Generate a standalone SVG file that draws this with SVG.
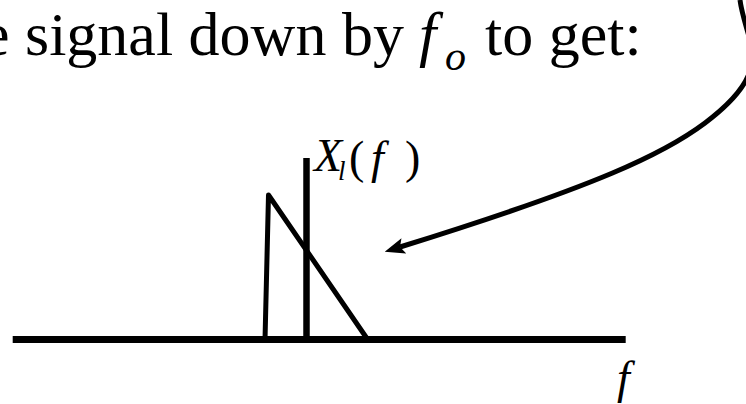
<svg xmlns="http://www.w3.org/2000/svg" width="746" height="404" viewBox="0 0 746 404">
<style>
.rm{font-family:"Liberation Serif","Times New Roman",serif;fill:#000}
.it{font-family:"Liberation Serif","Times New Roman",serif;font-style:italic;fill:#000}
.ln{stroke:#000;fill:none}
</style>
<defs>
<marker id="ah" viewBox="0 0 20 16" refX="4" refY="8" markerWidth="20" markerHeight="16" markerUnits="userSpaceOnUse" orient="auto">
<path d="M0,0 L20,8 L0,16 L4,8 z" fill="#000"/>
</marker>
</defs>
<rect width="746" height="404" fill="#fff"/>
<g id="title">
<text class="rm" x="-18" y="55" font-size="62">e signal down by</text>
<text class="it" x="419" y="55" font-size="62">f</text>
<text class="it" x="445" y="70" font-size="42">o</text>
<text class="rm" x="485" y="55" font-size="62">to get:</text>
</g>
<g id="axis">
<line class="ln" x1="12.7" y1="339.5" x2="625.7" y2="339.5" stroke-width="7"/>
<text class="it" x="617" y="393" font-size="46">f</text>
</g>
<g id="spectrum">
<line class="ln" x1="306.5" y1="158" x2="306.5" y2="340" stroke-width="6.5"/>
<polyline class="ln" points="265,340 268.5,195 368,340" stroke-width="5" stroke-linejoin="round"/>
</g>
<g id="label-Xl">
<text class="it" x="314" y="171" font-size="46">X</text>
<text class="it" x="338" y="180" font-size="27">l</text>
<text class="rm" x="349" y="173" font-size="46">(</text>
<text class="it" x="371" y="173" font-size="46">f</text>
<text class="rm" x="405" y="173" font-size="46">)</text>
</g>
<g id="connectors">
<path class="ln" d="M740,0 C746,45 778,68 705,123 C665,153 600,185 400,247" stroke-width="5" marker-end="url(#ah)"/>
</g>
</svg>
